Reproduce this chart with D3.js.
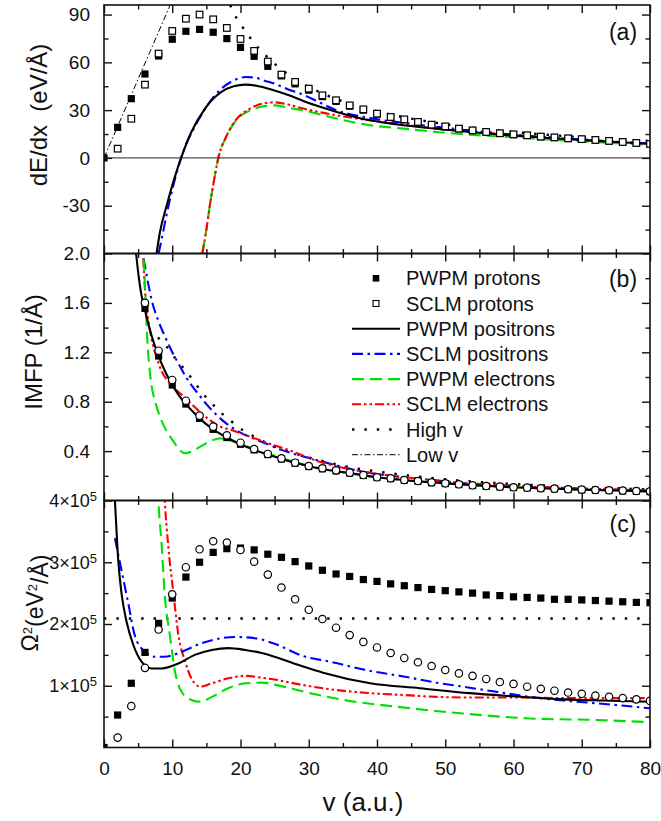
<!DOCTYPE html>
<html><head><meta charset="utf-8">
<script src="https://cdn.jsdelivr.net/npm/d3@7"></script>
<style>
body{margin:0;background:#fff;}
svg text{font-family:"Liberation Sans",Arial,Helvetica,sans-serif;fill:#111;}
</style></head><body>
<svg id="chart" width="661" height="821"></svg>
<script>
// ---------- data ----------
// proton velocities (a.u.)
const vGrid = [0,2,4,6,8,10,12,14,16,18,20,22,24,26,28,30,32,34,36,38,40,42,44,46,48,50,52,54,56,58,60,62,64,66,68,70,72,74,76,78,80];

// (a) stopping power dE/dx (eV/Å)
const dedxPwpmProton = [0,19.2,37.2,52.7,64,74.5,79.5,80.7,78.9,74.9,69.4,63.8,57.5,51.5,46.5,42.5,38.5,35.5,32.5,30,27.5,25.5,24,22.4,20.8,19.6,18.3,17.2,16.2,15.4,14.7,14.1,13.3,12.8,12.2,11.7,11.2,10.6,10.0,9.4,8.8];
const dedxSclmProton = [null,5.8,24.6,46,65.5,79.7,87.4,90,87,81.6,74.7,67.2,60.5,52.3,47.7,43.5,39.3,36.2,33.0,30.5,27.8,25.7,24.2,22.6,20.9,19.8,18.4,17.3,16.3,15.5,14.8,14.2,13.4,12.9,12.3,11.8,11.3,10.7,10.0,9.4,8.8];
const dedxPwpmPositron = [[7.7,-60],[8.2,-46.5],[9.2,-29.7],[10.3,-13],[11.3,0],[12.8,16.3],[14.8,31],[17.2,41.4],[19,45],[20.7,46],[22.5,45.2],[24.5,43],[27,39.5],[29.2,35.8],[31,33],[34.1,28.9],[39,23.6],[43.9,20.5],[48.7,18.4],[53.6,16.3],[60,14],[65,12.5],[70,11.2],[75,10],[80,8.9]];
const dedxSclmPositron = [[8.0,-60],[8.5,-50],[9.2,-35],[10,-20],[10.6,-10],[11.3,0],[12,8.5],[13,17],[14,25],[15,32],[16,38],[17.2,43.5],[18.5,47.5],[20,50.3],[20.7,50.8],[22,50.5],[23.5,48.5],[25,46.6],[27,43],[29.2,39.7],[31.5,35],[34.1,29.9],[39,25],[43.9,22],[48.7,19.5],[53.6,17.3],[60,14.6],[65,13],[70,11.6],[75,10.2],[80,9.0]];
const dedxPwpmElectron = [[14.4,-60],[15,-45],[15.5,-30],[16,-17],[16.75,0],[18,14],[19.7,25.2],[21,29],[22.1,31],[23.5,32.5],[25,33],[27,31.5],[29.2,29.9],[31.5,27.5],[34.1,24.7],[39,20.5],[43.9,18.4],[48.7,16.3],[53.6,14.6],[60,13],[65,11.6],[70,10.4],[75,9.3],[80,8.3]];
const dedxSclmElectron = [[14.4,-60],[15,-45],[15.5,-30],[16,-17],[16.75,0],[18,14.2],[19.7,25.7],[21,30],[22.1,32.5],[23.5,34.3],[25,34.9],[27,33.5],[29.2,31],[31.5,28.8],[34.1,26.7],[39,23.6],[43.9,20.9],[48.7,18.4],[53.6,16.7],[60,14.5],[65,12.9],[70,11.5],[75,10.1],[80,8.9]];
const dedxHighV = [[18.5,96],[18.9,92],[20,84],[21,78],[22,72],[23,67.5],[24,63],[26,55.5],[28,49.5],[30,44.5],[32,40.5],[34,37],[36,34],[38,31.5],[40,29.3],[44,25.5],[48,22.5],[52,20],[56,18],[60,16.3],[65,14.5],[70,13],[75,11.7],[80,10.6]];
const dedxLowV = [[0,0],[9.7,96]];

// (b) inverse mean free path (1/Å)
const imfpPwpmProton = [null,null,null,1.556,1.17,0.935,0.781,0.665,0.576,0.51,0.455,0.41,0.372,0.336,0.302,0.275,0.257,0.240,0.222,0.203,0.186,0.177,0.164,0.156,0.145,0.137,0.129,0.121,0.115,0.110,0.105,0.102,0.097,0.094,0.089,0.086,0.083,0.081,0.078,0.075,0.072];
const imfpSclmProton = [null,null,null,1.60,1.213,0.976,0.808,0.687,0.598,0.528,0.468,0.417,0.377,0.341,0.306,0.279,0.261,0.244,0.225,0.206,0.188,0.180,0.166,0.158,0.147,0.139,0.131,0.123,0.117,0.112,0.107,0.104,0.099,0.096,0.091,0.088,0.085,0.083,0.080,0.077,0.074];
const imfpPwpmPositron = [[4.5,2.1],[4.7,2.0],[5,1.85],[5.5,1.66],[6,1.54],[7,1.33],[8,1.17],[9,1.04],[10,0.935],[11,0.85],[12,0.78],[13,0.72],[14,0.665],[16,0.576],[18,0.51],[20,0.455],[22,0.41],[24,0.372],[26,0.338],[28,0.305],[30,0.278],[33,0.245],[36,0.222],[40,0.188],[45,0.16],[50,0.139],[55,0.122],[60,0.107],[65,0.097],[70,0.088],[75,0.081],[80,0.074]];
const imfpSclmPositron = [[5.8,1.96],[6.5,1.75],[7,1.62],[8,1.45],[9,1.32],[10,1.2],[11,1.1],[12,1.0],[13,0.92],[14,0.85],[15,0.78],[16,0.72],[18,0.62],[20,0.55],[22,0.5],[24,0.455],[26,0.41],[28,0.375],[30,0.345],[33,0.30],[38,0.233],[43,0.193],[48,0.166],[53,0.139],[58,0.124],[62,0.112],[67,0.102],[72,0.092],[80,0.08]];
const imfpPwpmElectron = [[5.8,1.95],[6.0,1.75],[6.3,1.35],[6.8,1.0],[7.5,0.8],[8.2,0.68],[9,0.58],[9.7,0.517],[10.4,0.46],[11.1,0.409],[11.9,0.382],[12.8,0.395],[14.1,0.436],[15,0.465],[16,0.49],[17,0.503],[18,0.495],[19,0.476],[20,0.46],[22,0.415],[24,0.38],[26,0.343],[28,0.31],[30,0.28],[35,0.228],[40,0.188],[50,0.139],[60,0.107],[70,0.088],[80,0.074]];
const imfpSclmElectron = [[5.75,1.96],[5.95,1.75],[6.2,1.58],[6.6,1.42],[7,1.3],[7.7,1.16],[8.5,1.04],[9.5,0.96],[10.5,0.9],[11.5,0.85],[12.5,0.8],[14,0.72],[15.3,0.66],[17,0.6],[19,0.565],[20,0.545],[22,0.505],[24,0.465],[27,0.41],[31.6,0.314],[38,0.233],[43,0.195],[48,0.166],[53,0.14],[58,0.125],[62,0.113],[67,0.104],[72,0.094],[80,0.082]];
const imfpHighV = [[7.9,1.32],[9.4,1.23],[10.6,1.14],[11.9,1.057],[13.1,0.97],[14.4,0.873],[15.7,0.792],[17.1,0.714],[18.6,0.644],[20.2,0.575],[22,0.517],[23.6,0.472],[25,0.436],[28,0.38],[32,0.32],[36,0.27],[40,0.235],[45,0.2],[50,0.172],[55,0.15],[60,0.133],[65,0.12],[70,0.108],[75,0.098],[80,0.09]];

// (c) straggling Ω² (eV²/Å)
const strPwpmProton = [0,0.526e5,1.04e5,1.54e5,2.01e5,2.42e5,2.76e5,3.0e5,3.16e5,3.22e5,3.23e5,3.2e5,3.13e5,3.08e5,3.01e5,2.94e5,2.87e5,2.81e5,2.77e5,2.72e5,2.69e5,2.65e5,2.62e5,2.59e5,2.56e5,2.54e5,2.52e5,2.50e5,2.47e5,2.46e5,2.44e5,2.43e5,2.42e5,2.40e5,2.40e5,2.39e5,2.38e5,2.37e5,2.36e5,2.35e5,2.345e5];
const strSclmProton = [null,0.16e5,0.67e5,1.29e5,1.91e5,2.48e5,2.92e5,3.21e5,3.34e5,3.32e5,3.20e5,3.01e5,2.80e5,2.59e5,2.40e5,2.23e5,2.08e5,1.94e5,1.82e5,1.71e5,1.62e5,1.53e5,1.45e5,1.38e5,1.32e5,1.255e5,1.20e5,1.16e5,1.11e5,1.06e5,1.03e5,0.985e5,0.95e5,0.92e5,0.89e5,0.87e5,0.84e5,0.82e5,0.80e5,0.78e5,0.755e5];
const strPwpmPositron = [[1.5,4.2e5],[1.6,4.0e5],[2.1,3.01e5],[2.6,2.47e5],[3.3,2.04e5],[4.3,1.66e5],[5.5,1.39e5],[7,1.28e5],[8.45,1.28e5],[10.9,1.36e5],[13.3,1.50e5],[15.8,1.58e5],[18.2,1.61e5],[20.7,1.58e5],[23.1,1.53e5],[25,1.47e5],[29.2,1.31e5],[32.1,1.21e5],[39,1.04e5],[46.3,0.96e5],[53.6,0.88e5],[60,0.83e5],[67.3,0.78e5],[73,0.76e5],[80,0.74e5]];
const strSclmPositron = [[1.6,3.39e5],[2.6,2.85e5],[3.6,2.31e5],[4.5,1.82e5],[6,1.55e5],[7.5,1.47e5],[8.9,1.47e5],[11.4,1.55e5],[14.3,1.69e5],[17.2,1.77e5],[19.2,1.79e5],[22.1,1.77e5],[25,1.68e5],[29.2,1.48e5],[33.1,1.39e5],[39,1.24e5],[43.9,1.15e5],[48.7,1.05e5],[52.6,0.985e5],[57,0.91e5],[62.4,0.82e5],[67.3,0.76e5],[72.2,0.716e5],[80,0.635e5]];
const strPwpmElectron = [[7.9,4.2e5],[8,3.95e5],[8.45,3.28e5],[8.9,2.47e5],[9.65,1.82e5],[10.4,1.23e5],[11.4,0.90e5],[12.8,0.77e5],[14.1,0.74e5],[15.8,0.82e5],[18.2,0.96e5],[20.7,1.04e5],[23.1,1.05e5],[25.3,1.01e5],[30.2,0.88e5],[35.1,0.77e5],[42.9,0.66e5],[52.6,0.55e5],[62.4,0.47e5],[72.2,0.445e5],[80,0.41e5]];
const strSclmElectron = [[8.8,4.2e5],[8.9,4.0e5],[9.4,3.28e5],[10.2,2.47e5],[10.9,1.82e5],[11.9,1.39e5],[12.8,1.12e5],[14.1,0.985e5],[15.8,1.04e5],[18.2,1.12e5],[20.7,1.16e5],[23.1,1.13e5],[25,1.10e5],[29.2,1.01e5],[34.1,0.93e5],[39,0.88e5],[43.9,0.85e5],[48.7,0.82e5],[53.6,0.81e5],[60,0.81e5],[67,0.80e5],[73,0.80e5],[80,0.80e5]];
const strHighV = [[0,2.09e5],[80,2.09e5]];

// axis ticks
const xTicks = [0,10,20,30,40,50,60,70,80];
const xMinor = [5,15,25,35,45,55,65,75];
const aTicks = [-30,0,30,60,90], aMinor = [-45,-15,15,45,75];
const bTicks = [0.4,0.8,1.2,1.6,2.0], bMinor = [0.2,0.6,1.0,1.4,1.8];
const cTicks = [1e5,2e5,3e5,4e5], cMinor = [0.5e5,1.5e5,2.5e5,3.5e5];

const legendLabels = ["PWPM protons","SCLM protons","PWPM positrons","SCLM positrons","PWPM electrons","SCLM electrons","High v","Low v"];

// ---------- styles ----------
const st = {
  pwpmPos: {stroke:"#000000", w:2.1, dash:null},
  sclmPos: {stroke:"#0000ff", w:2.1, dash:"11,4.5,2.5,4.5"},
  pwpmEl:  {stroke:"#00e000", w:2.1, dash:"12,6"},
  sclmEl:  {stroke:"#ff0000", w:2.1, dash:"9,3,2.5,3,2.5,3"},
  highV:   {stroke:"#000000", w:2.4, dash:"2.4,10"},
  lowV:    {stroke:"#000000", w:1, dash:"6,2.5,1.5,2.5"}
};

// ---------- layout ----------
const svg = d3.select("#chart");
const x = d3.scaleLinear().domain([0,80]).range([104,650]);
const L = 104, R = 650;

function drawPanel(id, top, bottom, domain, major, minor, lines, filled, open, openShape, labelFmt) {
  const y = d3.scaleLinear().domain(domain).range([bottom, top]);
  const g = svg.append("g");
  svg.append("clipPath").attr("id","clip-"+id).append("rect")
    .attr("x",L).attr("y",top).attr("width",R-L).attr("height",bottom-top);
  const plot = g.append("g").attr("clip-path","url(#clip-"+id+")");

  const line = d3.line().defined(d=>d[1]!=null).x(d=>x(d[0])).y(d=>y(d[1])).curve(d3.curveMonotoneX);
  lines.forEach(([data, s]) => {
    plot.append("path").attr("d", line(data)).attr("fill","none")
      .attr("stroke", s.stroke).attr("stroke-width", s.w)
      .attr("stroke-dasharray", s.dash).attr("stroke-linejoin","round");
  });

  const fpts = vGrid.map((v,i)=>[v, filled[i]]).filter(d=>d[1]!=null);
  plot.selectAll(null).data(fpts).join("rect")
    .attr("x",d=>x(d[0])-3.6).attr("y",d=>y(d[1])-3.6).attr("width",7.2).attr("height",7.2)
    .attr("fill","#000");
  const opts = vGrid.map((v,i)=>[v, open[i]]).filter(d=>d[1]!=null);
  if (openShape === "square") {
    plot.selectAll(null).data(opts).join("rect")
      .attr("x",d=>x(d[0])-3.3).attr("y",d=>y(d[1])-3.3).attr("width",6.6).attr("height",6.6)
      .attr("fill","#fff").attr("stroke","#000").attr("stroke-width",1.2);
  } else {
    plot.selectAll(null).data(opts).join("circle")
      .attr("cx",d=>x(d[0])).attr("cy",d=>y(d[1])).attr("r",3.7)
      .attr("fill","#fff").attr("stroke","#000").attr("stroke-width",1.2);
  }

  // inward ticks on all four sides
  const ax = g.append("g");
  const mk = (axis, tx, ty) => {
    const a = ax.append("g").attr("transform",`translate(${tx},${ty})`).call(axis);
    a.select(".domain").remove();
    a.selectAll("line").attr("stroke","#111").attr("stroke-width",1.4);
    return a;
  };
  mk(d3.axisLeft(y).tickValues(minor).tickSize(-4.5).tickFormat(""), L, 0);
  mk(d3.axisRight(y).tickValues(minor).tickSize(-4.5).tickFormat(""), R, 0);
  mk(d3.axisRight(y).tickValues(major).tickSize(-8).tickFormat(""), R, 0);
  mk(d3.axisTop(x).tickValues(xTicks).tickSize(-8).tickFormat(""), 0, top);
  mk(d3.axisTop(x).tickValues(xMinor).tickSize(-4.5).tickFormat(""), 0, top);
  mk(d3.axisBottom(x).tickValues(xMinor).tickSize(-4.5).tickFormat(""), 0, bottom);
  const yl = mk(d3.axisLeft(y).tickValues(major).tickSize(-8).tickPadding(14).tickFormat(labelFmt), L, 0);
  yl.selectAll("text").attr("font-size",19).attr("fill","#111");

  g.append("rect").attr("x",L).attr("y",top).attr("width",R-L).attr("height",bottom-top)
    .attr("fill","none").attr("stroke","#111").attr("stroke-width",1.6);
  return {y, g, yl};
}

// ---------- panel (a) ----------
const pa = drawPanel("a", 5, 253.5, [-60,96], aTicks, aMinor,
  [[dedxLowV, st.lowV],[dedxHighV, st.highV],[dedxPwpmElectron, st.pwpmEl],[dedxSclmElectron, st.sclmEl],
   [dedxSclmPositron, st.sclmPos],[dedxPwpmPositron, st.pwpmPos]],
  dedxPwpmProton, dedxSclmProton, "square", d=>d);
svg.append("line").attr("x1",L).attr("x2",R).attr("y1",pa.y(0)).attr("y2",pa.y(0))
  .attr("stroke","#222").attr("stroke-width",1);
svg.append("g").attr("transform","translate(0,253.5)")
  .call(d3.axisBottom(x).tickValues(xTicks).tickSize(-8).tickFormat(""))
  .call(a=>{a.select(".domain").remove(); a.selectAll("line").attr("stroke","#111").attr("stroke-width",1.4);});

// ---------- panel (b) ----------
const pb = drawPanel("b", 253.5, 500.5, [0,2.0], bTicks, bMinor,
  [[imfpHighV, st.highV],[imfpSclmPositron, st.sclmPos],[imfpSclmElectron, st.sclmEl],
   [imfpPwpmElectron, st.pwpmEl],[imfpPwpmPositron, st.pwpmPos]],
  imfpPwpmProton, imfpSclmProton, "circle", d3.format(".1f"));
svg.append("g").attr("transform","translate(0,500.5)")
  .call(d3.axisBottom(x).tickValues(xTicks).tickSize(-8).tickFormat(""))
  .call(a=>{a.select(".domain").remove(); a.selectAll("line").attr("stroke","#111").attr("stroke-width",1.4);});

// ---------- panel (c) ----------
const pc = drawPanel("c", 500.5, 747.5, [0,4e5], cTicks, cMinor,
  [[strHighV, st.highV],[strPwpmElectron, st.pwpmEl],[strSclmElectron, st.sclmEl],
   [strSclmPositron, st.sclmPos],[strPwpmPositron, st.pwpmPos]],
  strPwpmProton, strSclmProton, "circle", d=>"");
pc.yl.selectAll("text").attr("x",-7).attr("font-size",18).each(function(d){
  const t = d3.select(this);
  t.append("tspan").text(`${d/1e5}×10`);
  t.append("tspan").attr("dy","-0.45em").attr("font-size",13).text("5");
});
const xb = svg.append("g").attr("transform","translate(0,747.5)")
  .call(d3.axisBottom(x).tickValues(xTicks).tickSize(-8).tickPadding(14));
xb.select(".domain").remove();
xb.selectAll("line").attr("stroke","#111").attr("stroke-width",1.4);
xb.selectAll("text").attr("font-size",19).attr("fill","#111");

// ---------- panel letters ----------
[["(a)",40],["(b)",287],["(c)",532]].forEach(([t,yy])=>{
  svg.append("text").attr("x",623).attr("y",yy).attr("text-anchor","middle")
    .attr("font-size",23).text(t);
});

// ---------- axis titles ----------
svg.append("text").attr("transform","translate(47,115) rotate(-90)").attr("text-anchor","middle")
  .attr("font-size",24).style("white-space","pre").text("dE/dx  (eV/Å)");
svg.append("text").attr("transform","translate(42,352) rotate(-90)").attr("text-anchor","middle")
  .attr("font-size",24).text("IMFP (1/Å)");
const om = svg.append("text").attr("transform","translate(38,603) rotate(-90)").attr("text-anchor","middle")
  .attr("font-size",23);
om.append("tspan").text("Ω");
om.append("tspan").attr("dy","-0.5em").attr("font-size",13).text("2");
om.append("tspan").attr("dy","0.5em").text("(eV");
om.append("tspan").attr("dy","-0.5em").attr("font-size",13).text("2");
om.append("tspan").attr("dy","0.5em").text("/Å)");
svg.append("text").attr("x",363).attr("y",811).attr("text-anchor","middle")
  .attr("font-size",26).text("v (a.u.)");

// ---------- legend ----------
const lg = svg.append("g");
legendLabels.forEach((lab,i)=>{
  const cy = 278.3 + i*25.2;
  if (i===0) lg.append("rect").attr("x",376-3.3).attr("y",cy-3.3).attr("width",6.6).attr("height",6.6).attr("fill","#000");
  else if (i===1) lg.append("rect").attr("x",376-3).attr("y",cy-3).attr("width",6).attr("height",6)
    .attr("fill","#fff").attr("stroke","#000").attr("stroke-width",1.1);
  else {
    const s = [st.pwpmPos, st.sclmPos, st.pwpmEl, st.sclmEl, st.highV, st.lowV][i-2];
    lg.append("line").attr("x1",352).attr("x2",400).attr("y1",cy).attr("y2",cy)
      .attr("stroke",s.stroke).attr("stroke-width",s.w).attr("stroke-dasharray",s.dash);
  }
  lg.append("text").attr("x",406).attr("y",cy+7).attr("font-size",20).text(lab);
});
</script>
</body></html>
